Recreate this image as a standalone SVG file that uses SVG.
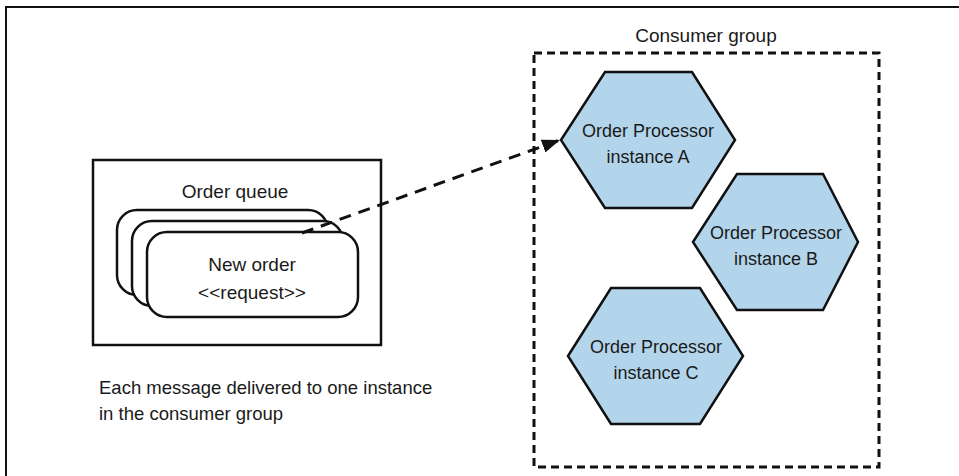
<svg xmlns="http://www.w3.org/2000/svg" width="959" height="476" viewBox="0 0 959 476">
<style>
text{font-family:"Liberation Sans",Arial,sans-serif;font-size:19px;fill:#1a1a1a;text-anchor:middle}
.hx{font-size:18px}
.cap{font-size:18.5px;text-anchor:start}
.box{fill:#fff;stroke:#111;stroke-width:2.5}
.card{fill:#fff;stroke:#111;stroke-width:2.5}
.hex{fill:#b3d5eb;stroke:#111;stroke-width:2.5;stroke-linejoin:miter}
.dash{fill:none;stroke:#111;stroke-width:3;stroke-dasharray:8 5}
.conn{fill:none;stroke:#111;stroke-width:3;stroke-dasharray:12 8}
</style>
<defs>
<marker id="arr" viewBox="0 0 12 9" refX="12" refY="4.5" markerWidth="6" markerHeight="4.5" orient="auto" markerUnits="strokeWidth">
<path d="M0,0 L12,4.5 L0,9 z" fill="#111"/>
</marker>
</defs>
<path d="M6,476 V7 H959" fill="none" stroke="#111" stroke-width="2"/>
<g id="consumer-group">
<rect class="dash" x="534" y="53" width="345" height="414"/>
<text x="706" y="42">Consumer group</text>
</g>
<g id="order-queue">
<rect class="box" x="93" y="160" width="288" height="185"/>
<text x="235" y="198">Order queue</text>
<rect class="card" x="117" y="210" width="211" height="85" rx="20"/>
<rect class="card" x="132" y="221" width="211" height="85" rx="20"/>
<rect class="card" x="147" y="232" width="211" height="85" rx="20"/>
<text x="252" y="271">New order</text>
<text x="252" y="299">&lt;&lt;request&gt;&gt;</text>
</g>
<g id="instance-a">
<polygon class="hex" points="561,140 605,72 692,72 735,140 692,208 605,208"/>
<text class="hx" x="648" y="137">Order Processor</text>
<text class="hx" x="648" y="163">instance A</text>
</g>
<g id="instance-b">
<polygon class="hex" points="693,242 737,174 823,174 858,242 823,310 737,310"/>
<text class="hx" x="776" y="239">Order Processor</text>
<text class="hx" x="776" y="265">instance B</text>
</g>
<g id="instance-c">
<polygon class="hex" points="568,356 611,288 700,288 743,356 700,424 611,424"/>
<text class="hx" x="656" y="353">Order Processor</text>
<text class="hx" x="656" y="379">instance C</text>
</g>
<g id="caption">
<text class="cap" x="99" y="394">Each message delivered to one instance</text>
<text class="cap" x="99" y="420">in the consumer group</text>
</g>
<g id="connectors">
<line class="conn" x1="302" y1="233" x2="560" y2="140" marker-end="url(#arr)"/>
</g>
</svg>
